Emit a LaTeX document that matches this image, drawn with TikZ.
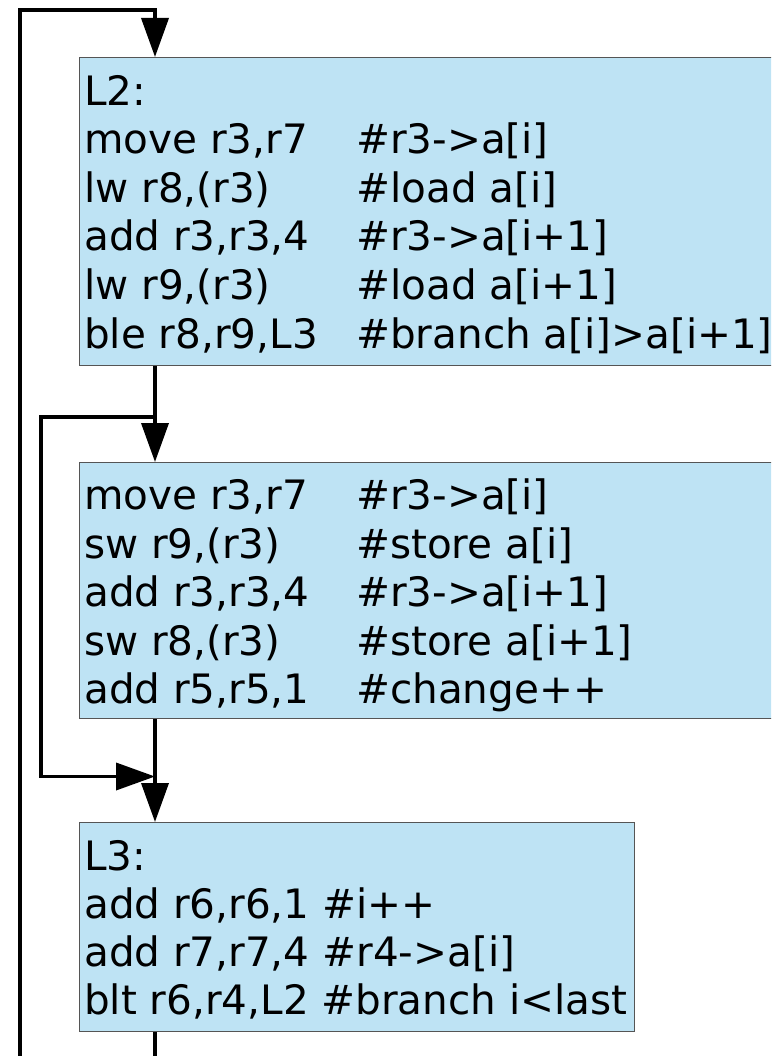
\documentclass[tikz,border=0pt]{standalone}
\usepackage{fontspec}
\setmainfont{DejaVu Sans}[Ligatures=NoCommon]
\usetikzlibrary{arrows.meta}
\definecolor{boxfill}{RGB}{190,227,244}
\definecolor{boxedge}{RGB}{85,85,85}
\begin{document}
\begin{tikzpicture}[x=1pt,y=-1pt,
  block/.style={draw=boxedge, line width=1.1pt, fill=boxfill, rectangle,
    inner sep=0pt, anchor=north west},
  code/.style={anchor=base west, inner sep=0pt, font=\fontsize{40.5}{48}\selectfont},
  flow/.style={line width=3.7pt, line join=miter},
  head/.style={-{Triangle[length=39pt,width=27pt]}}]
\clip (0,0) rectangle (771,1056);

% basic blocks
\node[block, minimum width=700pt, minimum height=308pt] (b1) at (79,57) {};
\node[block, minimum width=700pt, minimum height=256pt] (b2) at (79,462) {};
\node[block, minimum width=555pt, minimum height=209pt] (b3) at (79,822) {};

% block L2
\node[code] (l2) at (84,105.5) {L2:};
\node[code] (a1) at (84,154) {move r3,r7};
\node[code] (c1) at (356,154) {\#r3->a[i]};
\node[code] (a2) at (84,202.5) {lw r8,(r3)};
\node[code] (c2) at (356,202.5) {\#load a[i]};
\node[code] (a3) at (84,251) {add r3,r3,4};
\node[code] (c3) at (356,251) {\#r3->a[i+1]};
\node[code] (a4) at (84,299.5) {lw r9,(r3)};
\node[code] (c4) at (356,299.5) {\#load a[i+1]};
\node[code] (a5) at (84,348) {ble r8,r9,L3};
\node[code] (c5) at (356,348) {\#branch a[i]>a[i+1]};

% swap block
\node[code] (s1) at (84,509.5) {move r3,r7};
\node[code] (d1) at (356,509.5) {\#r3->a[i]};
\node[code] (s2) at (84,558) {sw r9,(r3)};
\node[code] (d2) at (356,558) {\#store a[i]};
\node[code] (s3) at (84,606.5) {add r3,r3,4};
\node[code] (d3) at (356,606.5) {\#r3->a[i+1]};
\node[code] (s4) at (84,655) {sw r8,(r3)};
\node[code] (d4) at (356,655) {\#store a[i+1]};
\node[code] (s5) at (84,703) {add r5,r5,1};
\node[code] (d5) at (356,703) {\#change++};

% block L3
\node[code] (l3) at (84,870) {L3:};
\node[code] (e1) at (84,918.5) {add r6,r6,1 \#i++};
\node[code] (e2) at (84,966.5) {add r7,r7,4 \#r4->a[i]};
\node[code] (e3) at (84,1014.5) {blt r6,r4,L2 \#branch i<last};

% control-flow edges
\coordinate (j1) at (155,417);
\coordinate (j2) at (155,776.5);
\coordinate (side) at (41,417);
\coordinate (loopbot) at (20,1090);
\coordinate (looptop) at (20,10);

\draw[flow, head] (b1.south -| j1) -- (b2.north -| j1);
\draw[flow, head] (j1) -- (side) |- (j2);
\draw[flow, head] (b2.south -| j1) -- (b3.north -| j1);
\draw[flow, head] (b3.south -| j1) |- (loopbot) -- (looptop)
  -- (looptop -| j1) -- (b1.north -| j1);
\end{tikzpicture}
\end{document}
